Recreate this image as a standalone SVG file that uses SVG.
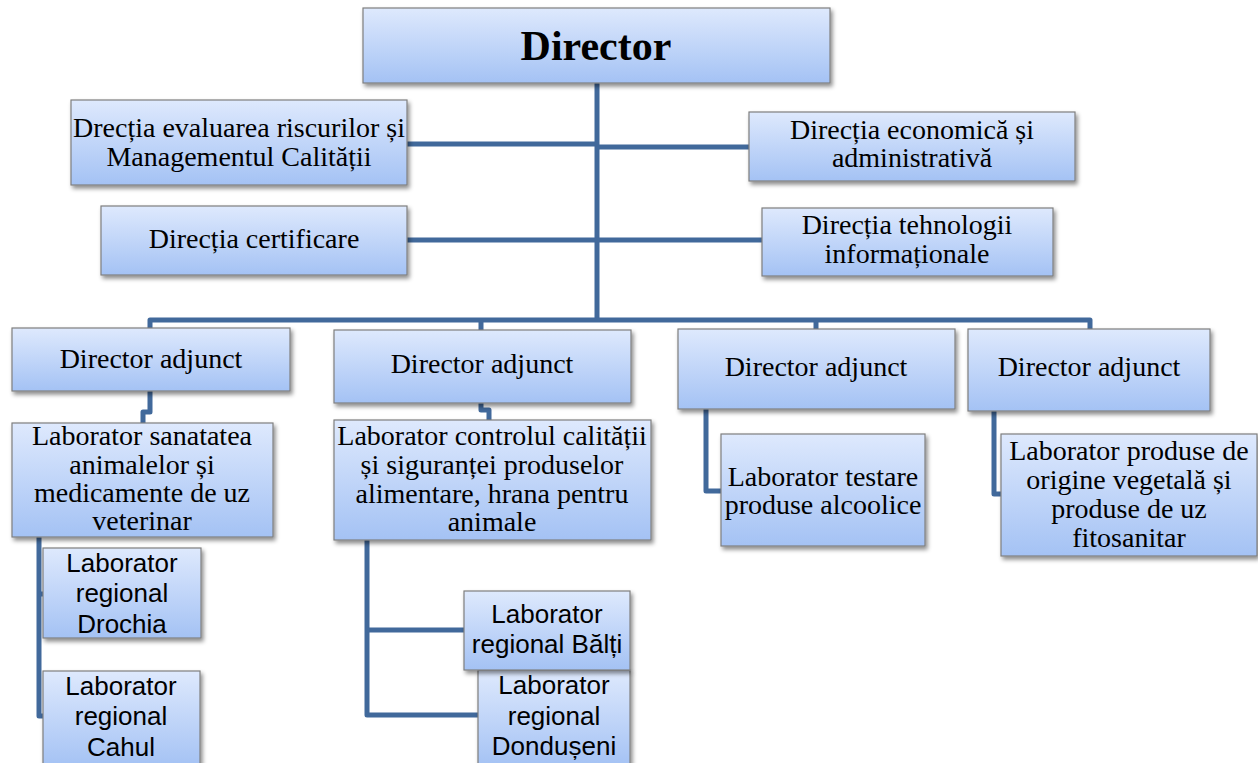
<svg xmlns="http://www.w3.org/2000/svg" width="1258" height="763" viewBox="0 0 1258 763">
<defs>
<linearGradient id="g" x1="0" y1="0" x2="0" y2="1">
<stop offset="0" stop-color="#DEE9FD"/>
<stop offset="1" stop-color="#A4C2F4"/>
</linearGradient>
<filter id="sh" x="-10%" y="-10%" width="125%" height="135%">
<feDropShadow dx="2" dy="3" stdDeviation="2" flood-color="#000" flood-opacity="0.45"/>
</filter>
</defs>
<style>
rect.b{fill:url(#g);stroke:#7F7F7F;stroke-width:1.2;filter:url(#sh)}
.c{fill:none;stroke:#41699B;stroke-width:5;stroke-linejoin:round;stroke-linecap:butt}
text{fill:#000;text-anchor:middle}
.t{font-family:"Liberation Serif","Times New Roman",serif;font-size:28px}
.s{font-family:"Liberation Sans",Arial,sans-serif;font-size:26px}
.h{font-family:"Liberation Serif","Times New Roman",serif;font-size:42px;font-weight:bold}
</style>
<g id="connectors">
<path class="c" d="M597,83 V320"/>
<path class="c" d="M407,144 H597"/>
<path class="c" d="M597,147 H749"/>
<path class="c" d="M407,240 H762"/>
<path class="c" d="M150,329 V320 H1090 V330"/>
<path class="c" d="M481,320 V331"/>
<path class="c" d="M816,320 V330"/>
<path class="c" d="M150,391 V412 H143 V424"/>
<path class="c" d="M481,403 V410 H489 V421"/>
<path class="c" d="M706,409 V491 H722"/>
<path class="c" d="M994,411 V494 H1002"/>
<path class="c" d="M39,537 V716 H44"/>
<path class="c" d="M39,594 H44"/>
<path class="c" d="M367,540 V715 H479"/>
<path class="c" d="M367,630 H465"/>
</g>
<g id="director">
<rect class="b" x="363" y="8" width="467" height="75"/>
<text class="h" x="596" y="60">Director</text>
</g>
<g id="dir-evaluare">
<rect class="b" x="71" y="100" width="336" height="85"/>
<text class="t" x="239" y="137">Drecția evaluarea riscurilor și</text>
<text class="t" x="239" y="166">Managementul  Calității</text>
</g>
<g id="dir-economica">
<rect class="b" x="749" y="112" width="326" height="69"/>
<text class="t" x="912" y="139">Direcția economică  și</text>
<text class="t" x="912" y="167">administrativă</text>
</g>
<g id="dir-certificare">
<rect class="b" x="101" y="206" width="306" height="69"/>
<text class="t" x="254" y="248">Direcția certificare</text>
</g>
<g id="dir-tehnologii">
<rect class="b" x="762" y="208" width="291" height="68"/>
<text class="t" x="907" y="234">Direcția tehnologii</text>
<text class="t" x="907" y="263">informaționale</text>
</g>
<g id="da1">
<rect class="b" x="12" y="328" width="278" height="63"/>
<text class="t" x="151" y="368">Director adjunct</text>
</g>
<g id="da2">
<rect class="b" x="334" y="330" width="297" height="73"/>
<text class="t" x="482" y="373">Director adjunct</text>
</g>
<g id="da3">
<rect class="b" x="678" y="329" width="277" height="80"/>
<text class="t" x="816" y="376">Director adjunct</text>
</g>
<g id="da4">
<rect class="b" x="968" y="329" width="242" height="82"/>
<text class="t" x="1089" y="376">Director adjunct</text>
</g>
<g id="lab-sanatate">
<rect class="b" x="12" y="423" width="261" height="114"/>
<text class="t" x="142" y="445">Laborator sanatatea</text>
<text class="t" x="142" y="474">animalelor și</text>
<text class="t" x="142" y="502">medicamente de uz</text>
<text class="t" x="142" y="530">veterinar</text>
</g>
<g id="lab-controlul">
<rect class="b" x="334" y="420" width="317" height="120"/>
<text class="t" x="492" y="445">Laborator controlul calității</text>
<text class="t" x="492" y="474">și siguranței produselor</text>
<text class="t" x="492" y="503">alimentare, hrana pentru</text>
<text class="t" x="492" y="531">animale</text>
</g>
<g id="lab-testare">
<rect class="b" x="721" y="434" width="204" height="112"/>
<text class="t" x="823" y="486">Laborator testare</text>
<text class="t" x="823" y="514">produse alcoolice</text>
</g>
<g id="lab-vegetala">
<rect class="b" x="1001" y="434" width="256" height="122"/>
<text class="t" x="1129" y="460">Laborator produse de</text>
<text class="t" x="1129" y="489">origine vegetală și</text>
<text class="t" x="1129" y="518">produse de uz</text>
<text class="t" x="1129" y="547">fitosanitar</text>
</g>
<g id="lab-drochia">
<rect class="b" x="43" y="548" width="158" height="90"/>
<text class="s" x="122" y="572">Laborator</text>
<text class="s" x="122" y="602">regional</text>
<text class="s" x="122" y="633">Drochia</text>
</g>
<g id="lab-cahul">
<rect class="b" x="43" y="671" width="157" height="96"/>
<text class="s" x="121" y="695">Laborator</text>
<text class="s" x="121" y="725">regional</text>
<text class="s" x="121" y="756">Cahul</text>
</g>
<g id="lab-donduseni">
<rect class="b" x="478" y="670" width="152" height="97"/>
<text class="s" x="554" y="694">Laborator</text>
<text class="s" x="554" y="725">regional</text>
<text class="s" x="554" y="755">Dondușeni</text>
</g>
<g id="lab-balti">
<rect class="b" x="464" y="591" width="166" height="79"/>
<text class="s" x="547" y="623">Laborator</text>
<text class="s" x="547" y="653">regional Bălți</text>
</g>
</svg>
